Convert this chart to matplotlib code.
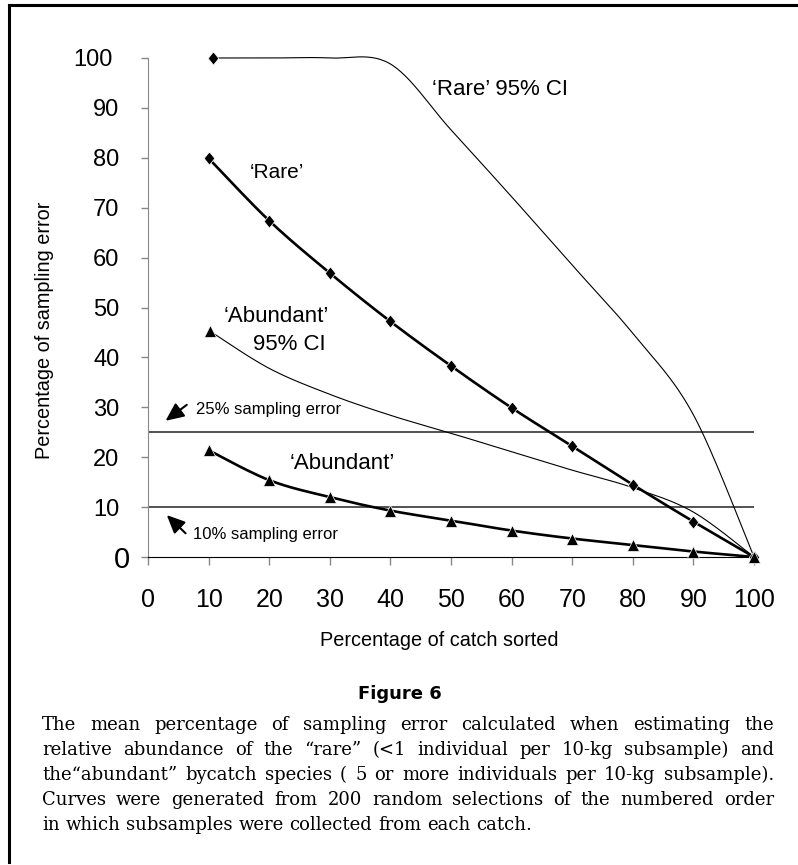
import numpy as np
import matplotlib
matplotlib.use("Agg")
import matplotlib.pyplot as plt
from matplotlib.transforms import ScaledTranslation

plt.rcParams['font.family'] = ['Liberation Sans', 'DejaVu Sans']

# data
pct_sorted = [10, 20, 30, 40, 50, 60, 70, 80, 90, 100]
rare = [79.9, 67.4, 56.9, 47.2, 38.3, 29.9, 22.2, 14.5, 7.1, 0]
abundant = [21.4, 15.4, 12.0, 9.3, 7.3, 5.3, 3.7, 2.4, 1.1, 0]
rare_ci_x = [10.8, 20, 30, 40, 50, 60, 70, 80, 90, 100]
rare_ci = [100, 100, 100, 98.8, 85.6, 72.2, 58.5, 44.8, 28.5, 0]
abund_ci_x = [10.3, 20, 30, 40, 50, 60, 70, 80, 90, 100]
abund_ci = [45.2, 37.8, 32.6, 28.4, 24.8, 21.1, 17.4, 13.9, 9.0, 0]
error_levels = [25, 10]
ticks = [0, 10, 20, 30, 40, 50, 60, 70, 80, 90, 100]

caption = [
    "The mean percentage of sampling error calculated when estimating the",
    "relative abundance of the \u201crare\u201d (<1 individual per 10-kg subsample) and",
    "the\u201cabundant\u201d bycatch species ( 5 or more individuals per 10-kg subsample).",
    "Curves were generated from 200 random selections of the numbered order",
    "in which subsamples were collected from each catch.",
]


def smooth(x, y, n=30):
    # excel style smoothed line (catmull-rom bezier)
    x = np.asarray(x, float)
    y = np.asarray(y, float)
    px = np.concatenate([[x[0]], x, [x[-1]]])
    py = np.concatenate([[y[0]], y, [y[-1]]])
    xs, ys = [], []
    t = np.linspace(0, 1, n)
    for i in range(1, len(px) - 2):
        p0 = np.array([px[i], py[i]])
        p3 = np.array([px[i + 1], py[i + 1]])
        p1 = p0 + (np.array([px[i + 1], py[i + 1]]) - np.array([px[i - 1], py[i - 1]])) / 6
        p2 = p3 - (np.array([px[i + 2], py[i + 2]]) - np.array([px[i], py[i]])) / 6
        b = ((1 - t)**3)[:, None] * p0 + (3 * (1 - t)**2 * t)[:, None] * p1 \
            + (3 * (1 - t) * t**2)[:, None] * p2 + (t**3)[:, None] * p3
        xs.extend(b[:, 0])
        ys.extend(b[:, 1])
    return xs, ys


W, H = 798, 865
fig = plt.figure(figsize=(W / 100, H / 100), dpi=100)
ax = fig.add_axes([148 / W, 1 - 557 / H, 606 / W, 499 / H])

diamond = [(0, 1), (0.8, 0), (0, -1), (-0.8, 0), (0, 1)]

for lv in error_levels:
    ax.plot([0, 100], [lv, lv], color='#444444', lw=1.3, zorder=1)

sx, sy = smooth(rare_ci_x, rare_ci)
ax.plot(sx, sy, color='black', lw=0.8, clip_on=False, zorder=2)
ax.plot(rare_ci_x[0], rare_ci[0], marker=diamond, ms=9.5, color='black',
        mec='white', mew=0.5, clip_on=False, zorder=4)

sx, sy = smooth(abund_ci_x, abund_ci)
ax.plot(sx, sy, color='black', lw=0.8, clip_on=False, zorder=2)
ax.plot(abund_ci_x[0], abund_ci[0], marker='^', ms=9, color='black',
        mec='white', mew=0.5, clip_on=False, zorder=4)

sx, sy = smooth(pct_sorted, rare)
ax.plot(sx, sy, color='black', lw=1.9, clip_on=False, zorder=3)
ax.plot(pct_sorted, rare, ls='none', marker=diamond, ms=9.5, color='black',
        mec='white', mew=0.5, clip_on=False, zorder=4)

sx, sy = smooth(pct_sorted, abundant)
ax.plot(sx, sy, color='black', lw=1.9, clip_on=False, zorder=3)
ax.plot(pct_sorted, abundant, ls='none', marker='^', ms=9, color='black',
        mec='white', mew=0.5, clip_on=False, zorder=4)

ax.set_xlim(0, 100)
ax.set_ylim(0, 100)
ax.set_xticks(ticks)
ax.set_yticks(ticks)
ax.spines['top'].set_visible(False)
ax.spines['right'].set_visible(False)
ax.spines['left'].set_color('#888888')
ax.spines['bottom'].set_color('black')
ax.tick_params(axis='x', length=6, width=1, color='#888888', pad=16, labelsize=18)
ax.tick_params(axis='y', length=5, width=1, color='#888888', pad=15.5, labelsize=17)

# y labels are not all aligned the same way in the original
fig.canvas.draw()
for lab in ax.get_yticklabels():
    if lab.get_text() == '100':
        lab.set_transform(lab.get_transform() + ScaledTranslation(-0.07, 0, fig.dpi_scale_trans))
    if lab.get_text() == '0':
        lab.set_fontsize(21)
        lab.set_transform(lab.get_transform() + ScaledTranslation(0.1, 0, fig.dpi_scale_trans))

ax.text(21.2, 77.0, "\u2018Rare\u2019", fontsize=15, ha='center', va='center')
ax.text(46.8, 93.6, "\u2018Rare\u2019 95% CI", fontsize=16, ha='left', va='center')
ax.text(21.2, 48.1, "\u2018Abundant\u2019", fontsize=16, ha='center', va='center')
ax.text(23.4, 42.5, "95% CI", fontsize=16, ha='center', va='center')
ax.text(32.0, 18.8, "\u2018Abundant\u2019", fontsize=16, ha='center', va='center')
ax.text(8.0, 29.6, "25% sampling error", fontsize=12, ha='left', va='center')
ax.text(7.5, 4.6, "10% sampling error", fontsize=12, ha='left', va='center')

arrow_style = dict(arrowstyle='-|>,head_length=0.55,head_width=0.25', color='black',
                   lw=1.5, mutation_scale=20, shrinkA=0, shrinkB=0)
ax.annotate("", xy=(2.9, 27.3), xytext=(6.4, 30.5), arrowprops=arrow_style)
ax.annotate("", xy=(3.1, 8.4), xytext=(6.2, 4.75), arrowprops=arrow_style)

fig.text(45 / W, 1 - 330 / H, "Percentage of sampling error", fontsize=14.3,
         rotation=90, ha='center', va='center')
fig.text(439 / W, 1 - 640 / H, "Percentage of catch sorted", fontsize=14.3,
         ha='center', va='center')

fig.text(400 / W, 1 - 694 / H, "Figure 6", fontsize=13, fontweight='bold',
         family='DejaVu Sans', ha='center', va='center')

# justified caption
renderer = fig.canvas.get_renderer()
x0, x1 = 42, 774
for i, line in enumerate(caption):
    y = 1 - (725 + 25 * i) / H
    words = line.split(' ')
    ts = [fig.text(0, y, w, family='DejaVu Serif', fontsize=13, ha='left',
                   va='center') for w in words]
    widths = [t.get_window_extent(renderer).width for t in ts]
    if i == len(caption) - 1:
        gap = 0.32 * 13 * 100 / 72
    else:
        gap = (x1 - x0 - sum(widths)) / (len(words) - 1)
    x = x0
    for t, w in zip(ts, widths):
        t.set_x(x / W)
        x += w + gap

# frame lines around the figure panel
fig.add_artist(plt.Line2D([9 / W, 1], [1 - 5 / H, 1 - 5 / H], color='black', lw=2.2))
fig.add_artist(plt.Line2D([9 / W, 9 / W], [1 - 5 / H, 1 - 862 / H], color='black', lw=2.2))

fig.savefig("out.png", dpi=100)
